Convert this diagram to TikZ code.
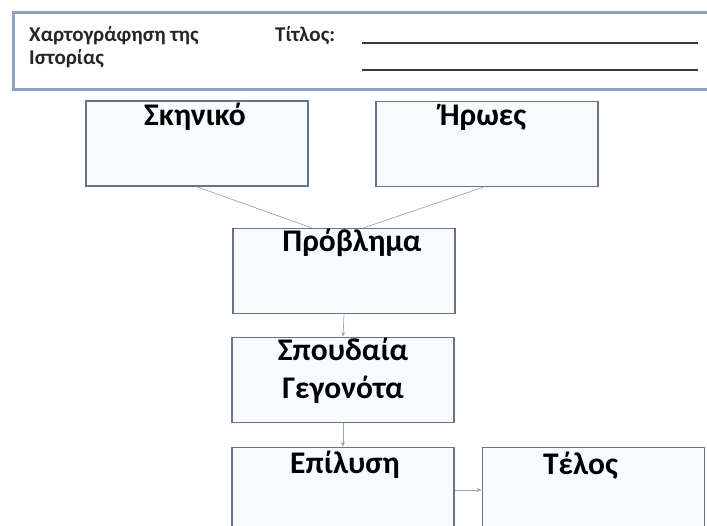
\documentclass[tikz,border=0pt]{standalone}
\usepackage{fontspec}
\setmainfont{Carlito}
\usepackage{xcolor}
\usetikzlibrary{arrows.meta}

\definecolor{boxline}{HTML}{66738A}
\definecolor{boxfill}{HTML}{F8FBFF}
\definecolor{hdrline}{HTML}{8CA2BE}
\definecolor{linkline}{HTML}{94A6C6}
\definecolor{rule}{HTML}{3A3A3A}

\tikzset{
  box/.style={draw=boxline, line width=1.6pt, fill=boxfill,
    minimum width=222pt, minimum height=85pt, inner sep=0pt},
  boxtitle/.style={font=\fontsize{31.5}{38}\selectfont\bfseries,
    align=center, inner sep=0pt},
  hdrtext/.style={font=\fontsize{21}{23}\selectfont\bfseries,
    anchor=base west, inner sep=0pt, text=black!85},
  link/.style={draw=linkline, line width=0.7pt},
  flow/.style={link, -{Stealth[length=5pt,width=4pt]}}
}

\begin{document}
\begin{tikzpicture}[x=1pt,y=-1pt]
          \useasboundingbox[fill=white] (0,0) rectangle (707,526);
          \clip (0,0) rectangle (707,526);
          % header
          \draw[hdrline, line width=3pt, fill=white] (13,13) rectangle (730,90);
          \node[hdrtext] (map) at (29,42) {Χαρτογράφηση της};
          \node[hdrtext] (story) at (29,65) {Ιστορίας};
          \node[hdrtext] (tit) at (275,42) {Τίτλος:};
          \coordinate (r1a) at (362,43);
          \coordinate (r1b) at (698,43);
          \coordinate (r2a) at (362,70);
          \coordinate (r2b) at (698,70);
          \draw[rule, line width=1.4pt] (r1a) -- (r1b);
          \draw[rule, line width=1.4pt] (r2a) -- (r2b);
          % boxes
          \node[box, label={[boxtitle, anchor=base, xshift=-2pt, yshift=-25pt]north:Σκηνικό}] (sk) at (197,143.5) {};
          \node[box, label={[boxtitle, anchor=base, xshift=-4pt, yshift=-25pt]north:Ήρωες}] (hr) at (487,144) {};
          \node[box, label={[boxtitle, anchor=base, xshift=8pt, yshift=-24pt]north:Πρόβλημα}] (pr) at (344,271) {};
          \node[box, label={[boxtitle, anchor=base, yshift=-62pt]north:Σπουδαία\\Γεγονότα}] (sg) at (343,380) {};
          \node[box, label={[boxtitle, anchor=base, xshift=2pt, yshift=-27pt]north:Επίλυση}] (ep) at (343,490) {};
          \node[box, label={[boxtitle, anchor=base, xshift=-13pt, yshift=-28pt]north:Τέλος}] (te) at (593.5,490) {};
          % connectors
          \draw[link] (sk.south) -- ([xshift=-33pt]pr.north);
          \draw[link] ([xshift=-4pt]hr.south) -- ([xshift=20pt]pr.north);
          \draw[flow] (pr.south) -- (sg.north);
          \draw[flow] (sg.south) -- (ep.north);
          \draw[flow] (ep.east) -- (te.west);
        \end{tikzpicture}
\end{document}
